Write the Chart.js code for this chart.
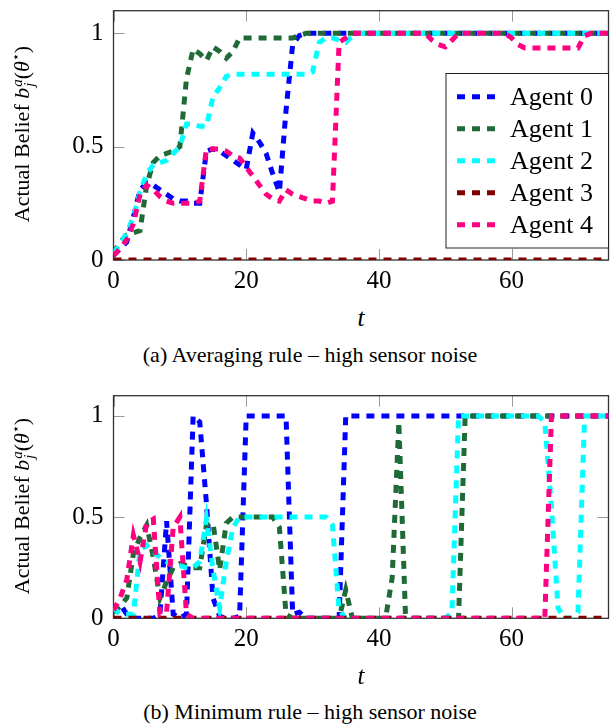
<!DOCTYPE html>
<html>
<head>
<meta charset="utf-8">
<script src="https://cdn.jsdelivr.net/npm/chart.js@4.4.1/dist/chart.umd.min.js"></script>
<style>
  body { margin: 0; background: #fff; width: 610px; height: 724px; position: relative; overflow: hidden;
         font-family: "Liberation Serif", "Times New Roman", serif; color: #000; }
  .plot { position: absolute; left: 0; }
  .ylab { position: absolute; transform: translate(-50%, -50%) rotate(-90deg); white-space: nowrap; font-size: 22px; }
  .ss { display: inline-flex; flex-direction: column; font-size: 0.68em; line-height: 0.85; vertical-align: 0.5em; margin-left: 1px; }
  .star { font-family: "DejaVu Serif", serif; font-size: 0.6em; vertical-align: 0.7em; }
  .xlab { position: absolute; transform: translate(-50%, -50%); font-style: italic; font-size: 25px; }
  .cap { position: absolute; transform: translate(-50%, -50%); font-size: 22px; white-space: nowrap; }
</style>
</head>
<body>
<div class="plot" style="top:0"><canvas id="avgChart" width="610" height="300"></canvas></div>
<div class="plot" style="top:385px"><canvas id="minChart" width="610" height="300"></canvas></div>

<div class="ylab" style="left:22px;top:134px">Actual Belief <i>b</i><span class="ss"><i>a</i><i>j</i></span>(<i>θ</i><span class="star">⋆</span>)</div>
<div class="xlab" style="left:361px;top:318px">t</div>
<div class="cap" style="left:310px;top:355px">(a) Averaging rule – high sensor noise</div>

<div class="ylab" style="left:22px;top:506px">Actual Belief <i>b</i><span class="ss"><i>a</i><i>j</i></span>(<i>θ</i><span class="star">⋆</span>)</div>
<div class="xlab" style="left:361px;top:676px">t</div>
<div class="cap" style="left:310px;top:712px">(b) Minimum rule – high sensor noise</div>

<script>
// time steps
var T = [0, 1, 2, 3, 4, 5, 6, 7, 8, 9, 10, 11, 12, 13, 14, 15, 16, 17, 18, 19,
  20, 21, 22, 23, 24, 25, 26, 27, 28, 29, 30, 31, 32, 33, 34, 35, 36, 37, 38, 39,
  40, 41, 42, 43, 44, 45, 46, 47, 48, 49, 50, 51, 52, 53, 54, 55, 56, 57, 58, 59,
  60, 61, 62, 63, 64, 65, 66, 67, 68, 69, 70, 71, 72, 73, 74, 75];

var AGENTS = ["Agent 0", "Agent 1", "Agent 2", "Agent 3", "Agent 4"];
var COLORS = ["#0000ff", "#1f6a36", "#00ffff", "#800000", "#ff0080"];

var X_TICKS = [0, 20, 40, 60];
var Y_TICKS = [0, 0.5, 1];
var X_MAX = 74.6;
var Y_MAX = 1.1;

// (a) averaging rule
var avgAgent0 = [0.02, 0.05, 0.08, 0.19, 0.31, 0.34, 0.33, 0.31, 0.29, 0.27,
  0.26, 0.26, 0.25, 0.25, 0.48, 0.49, 0.48, 0.46, 0.44, 0.42,
  0.40, 0.56, 0.52, 0.47, 0.38, 0.30, 0.66, 0.95, 0.99, 1,
  1, 1, 1, 1, 1, 1, 1, 1, 1, 1,
  1, 1, 1, 1, 1, 1, 1, 1, 1, 1,
  1, 1, 1, 1, 1, 1, 1, 1, 1, 1,
  1, 1, 1, 1, 1, 1, 1, 1, 1, 1,
  1, 1, 1, 1, 1, 1];
var avgAgent1 = [0.03, 0.08, 0.11, 0.12, 0.13, 0.33, 0.43, 0.46, 0.47, 0.48,
  0.50, 0.80, 0.93, 0.91, 0.88, 0.94, 0.92, 0.89, 0.92, 0.98,
  0.98, 0.98, 0.98, 0.98, 0.98, 0.98, 0.98, 0.98, 0.99, 1,
  1, 1, 1, 1, 1, 1, 1, 1, 1, 1,
  1, 1, 1, 1, 1, 1, 1, 1, 1, 1,
  1, 1, 1, 1, 1, 1, 1, 1, 1, 1,
  1, 1, 1, 1, 1, 1, 1, 1, 1, 1,
  1, 1, 1, 1, 1, 1];
var avgAgent2 = [0.03, 0.07, 0.12, 0.19, 0.30, 0.38, 0.42, 0.43, 0.44, 0.47,
  0.50, 0.60, 0.60, 0.59, 0.59, 0.72, 0.76, 0.81, 0.82, 0.82,
  0.82, 0.82, 0.82, 0.82, 0.82, 0.82, 0.82, 0.82, 0.82, 0.82,
  0.83, 0.96, 0.98, 0.98, 0.97, 0.96, 0.99, 1, 1, 1,
  1, 1, 1, 1, 1, 1, 1, 1, 1, 1,
  1, 1, 1, 1, 1, 1, 1, 1, 1, 1,
  1, 1, 1, 1, 1, 1, 1, 1, 1, 1,
  1, 1, 1, 1, 1, 1];
var avgAgent3 = [0, 0, 0, 0, 0, 0, 0, 0, 0, 0,
  0, 0, 0, 0, 0, 0, 0, 0, 0, 0,
  0, 0, 0, 0, 0, 0, 0, 0, 0, 0,
  0, 0, 0, 0, 0, 0, 0, 0, 0, 0,
  0, 0, 0, 0, 0, 0, 0, 0, 0, 0,
  0, 0, 0, 0, 0, 0, 0, 0, 0, 0,
  0, 0, 0, 0, 0, 0, 0, 0, 0, 0,
  0, 0, 0, 0, 0, 0];
var avgAgent4 = [0.02, 0.05, 0.09, 0.16, 0.29, 0.33, 0.31, 0.28, 0.26, 0.25,
  0.25, 0.25, 0.25, 0.26, 0.49, 0.49, 0.49, 0.48, 0.46, 0.45,
  0.41, 0.37, 0.33, 0.29, 0.27, 0.26, 0.31, 0.29, 0.28, 0.27,
  0.26, 0.26, 0.25, 0.26, 0.96, 0.98, 1, 1, 1, 1,
  1, 1, 1, 1, 1, 1, 1, 1, 0.97, 0.95,
  0.94, 0.97, 1, 1, 1, 1, 1, 1, 1, 1,
  0.98, 0.95, 0.935, 0.935, 0.935, 0.935, 0.935, 0.935, 0.935, 0.935,
  0.935, 0.99, 1, 1, 1, 1];

// (b) minimum rule
var minAgent0 = [0.03, 0.07, 0.02, 0, 0, 0, 0, 0.02, 0.48, 0.02,
  0, 0.02, 1, 0.97, 0.57, 0.10, 0.01, 0, 0, 0.01,
  1, 1, 1, 1, 1, 1, 1, 0.02, 0.03, 0,
  0, 0, 0, 0, 0, 1, 1, 1, 1, 1,
  1, 1, 1, 1, 1, 1, 1, 1, 1, 1,
  1, 1, 1, 1, 1, 1, 1, 1, 1, 1,
  1, 1, 1, 1, 1, 1, 1, 1, 1, 1,
  1, 1, 1, 1, 1, 1];
var minAgent1 = [0.03, 0.06, 0.10, 0.32, 0.40, 0.46, 0.30, 0.10, 0.18, 0.25,
  0.27, 0.26, 0.25, 0.25, 0.46, 0.47, 0.24, 0.47, 0.50, 0.50,
  0.50, 0.50, 0.50, 0.50, 0.50, 0.45, 0.02, 0, 0, 0,
  0, 0, 0, 0, 0, 0.14, 0, 0, 0, 0,
  0, 0, 0.20, 0.97, 0.02, 0, 0, 0, 0, 0,
  0, 0, 0, 1, 1, 1, 1, 1, 1, 1,
  1, 1, 1, 1, 1, 1, 1, 1, 1, 1,
  1, 1, 1, 1, 1, 1];
var minAgent2 = [0.05, 0.02, 0.02, 0.02, 0.34, 0.36, 0.33, 0.30, 0.28, 0.26,
  0.26, 0.25, 0.25, 0.28, 0.49, 0.24, 0.05, 0.28, 0.45, 0.50,
  0.50, 0.50, 0.50, 0.50, 0.50, 0.50, 0.50, 0.50, 0.50, 0.50,
  0.50, 0.50, 0.50, 0.46, 0.04, 0, 0, 0, 0, 0,
  0, 0, 0, 0, 0, 0, 0, 0, 0, 0,
  0, 0.03, 1, 1, 1, 1, 1, 1, 1, 1,
  1, 1, 1, 1, 1, 0.97, 0.55, 0.05, 0, 0,
  0.03, 1, 1, 1, 1, 1];
var minAgent3 = [0, 0, 0, 0, 0, 0, 0, 0, 0, 0,
  0, 0, 0, 0, 0, 0, 0, 0, 0, 0,
  0, 0, 0, 0, 0, 0, 0, 0, 0, 0,
  0, 0, 0, 0, 0, 0, 0, 0, 0, 0,
  0, 0, 0, 0, 0, 0, 0, 0, 0, 0,
  0, 0, 0, 0, 0, 0, 0, 0, 0, 0,
  0, 0, 0, 0, 0, 0, 0, 0, 0, 0,
  0, 0, 0, 0, 0, 0];
var minAgent4 = [0.04, 0.10, 0.19, 0.41, 0.28, 0.47, 0.49, 0.02, 0.03, 0.45,
  0.50, 0.02, 0, 0, 0, 0, 0, 0, 0, 0,
  0, 0, 0, 0, 0, 0, 0, 0, 0, 0,
  0, 0, 0, 0, 0, 0, 0, 0, 0, 0,
  0, 0, 0, 0, 0, 0, 0, 0, 0, 0,
  0, 0, 0, 0, 0, 0, 0, 0, 0, 0,
  0, 0, 0, 0, 0, 0, 1, 1, 1, 1,
  1, 1, 1, 1, 1, 1];

var SERIF = "'Liberation Serif', 'Times New Roman', Times, serif";
var tickFont = { family: SERIF, size: 25 };

// box frame + inward tick marks, drawn under the lines
var framePlugin = {
  id: "frame",
  beforeDatasetsDraw: function (chart) {
    var ctx = chart.ctx, a = chart.chartArea;
    var x = chart.scales.x, y = chart.scales.y;
    ctx.save();
    ctx.strokeStyle = "#999";
    ctx.lineWidth = 1;
    ctx.beginPath();
    X_TICKS.forEach(function (v) {
      var px = Math.round(x.getPixelForValue(v)) + 0.5;
      ctx.moveTo(px, a.bottom); ctx.lineTo(px, a.bottom - 11);
      ctx.moveTo(px, a.top); ctx.lineTo(px, a.top + 11);
    });
    Y_TICKS.forEach(function (v) {
      var py = Math.round(y.getPixelForValue(v)) + 0.5;
      ctx.moveTo(a.left, py); ctx.lineTo(a.left + 11, py);
      ctx.moveTo(a.right, py); ctx.lineTo(a.right - 11, py);
    });
    ctx.stroke();
    ctx.strokeStyle = "#333";
    ctx.lineWidth = 1.3;
    ctx.strokeRect(a.left, a.top, a.right - a.left, a.bottom - a.top);
    ctx.restore();
  }
};

// legend box inside the plot (top chart only)
var legendPlugin = {
  id: "legendBox",
  afterDatasetsDraw: function (chart, args, opts) {
    if (!opts.show) return;
    var ctx = chart.ctx, a = chart.chartArea;
    var left = a.right - 162.5, top = a.top + 62.8;
    ctx.save();
    ctx.fillStyle = "#fff";
    ctx.fillRect(left, top, a.right - left, 174.5);
    ctx.strokeStyle = "#222";
    ctx.lineWidth = 1;
    ctx.strokeRect(left, top, a.right - left, 174.5);
    chart.data.datasets.forEach(function (ds, i) {
      var cy = top + 23.2 + 32 * i;
      ctx.strokeStyle = ds.borderColor;
      ctx.lineWidth = ds.borderWidth;
      ctx.lineCap = "butt";
      ctx.setLineDash(ds.borderDash);
      ctx.beginPath();
      ctx.moveTo(left + 11, cy);
      ctx.lineTo(left + 51, cy);
      ctx.stroke();
      ctx.setLineDash([]);
      ctx.fillStyle = "#000";
      ctx.font = "26px " + SERIF;
      ctx.textBaseline = "middle";
      ctx.fillText(ds.label, left + 64, cy + 1);
    });
    ctx.restore();
  }
};

function buildChart(id, series, axisHeight, withLegend) {
  return new Chart(document.getElementById(id), {
    type: "line",
    data: {
      labels: T,
      datasets: AGENTS.map(function (name, i) {
        return {
          label: name,
          data: series[i],
          borderColor: COLORS[i],
          borderWidth: 5,
          borderDash: [8, 7],
          pointRadius: 0,
          tension: 0,
          fill: false,
          clip: 0,
          order: AGENTS.length - i // later agents on top
        };
      })
    },
    options: {
      responsive: false,
      animation: false,
      events: [],
      layout: { padding: { top: 10.7, right: 1.5, left: 0, bottom: 0 } },
      plugins: {
        legend: { display: false },
        tooltip: { enabled: false },
        legendBox: { show: withLegend }
      },
      scales: {
        x: {
          type: "linear",
          min: 0,
          max: X_MAX,
          grid: { display: false, drawTicks: false },
          border: { display: false },
          ticks: { font: tickFont, color: "#000", padding: 6, maxRotation: 0,
                   callback: function (v) { return String(v); } },
          afterBuildTicks: function (s) { s.ticks = X_TICKS.map(function (v) { return { value: v }; }); },
          afterFit: function (s) { s.height = axisHeight; s.paddingLeft = 0; s.paddingRight = 0; }
        },
        y: {
          min: 0,
          max: Y_MAX,
          grid: { display: false, drawTicks: false },
          border: { display: false },
          ticks: { font: tickFont, color: "#000", padding: 10,
                   callback: function (v) { return String(v); } },
          afterBuildTicks: function (s) { s.ticks = Y_TICKS.map(function (v) { return { value: v }; }); },
          afterFit: function (s) { s.width = 113.5; s.paddingTop = 0; s.paddingBottom = 0; }
        }
      }
    },
    plugins: [framePlugin, legendPlugin]
  });
}

buildChart("avgChart", [avgAgent0, avgAgent1, avgAgent2, avgAgent3, avgAgent4], 40, true);
buildChart("minChart", [minAgent0, minAgent1, minAgent2, minAgent3, minAgent4], 66.7, false);
</script>
</body>
</html>
